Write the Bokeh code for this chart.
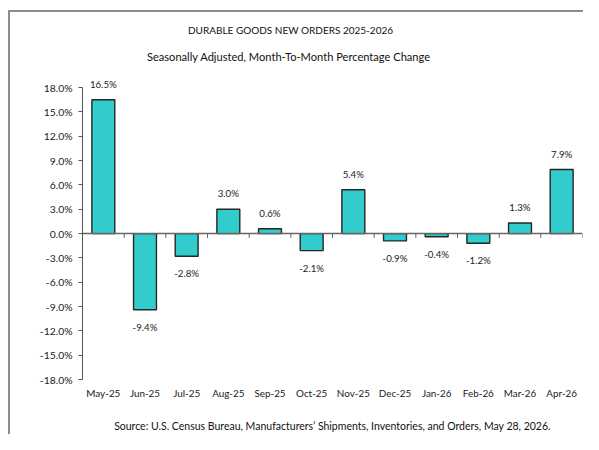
import glob
from bokeh.plotting import figure
from bokeh.models import Range1d, FixedTicker, Span, LabelSet, ColumnDataSource, Title
from bokeh.core.properties import value
from bokeh.embed import file_html
from bokeh.resources import INLINE

months = ["May-25", "Jun-25", "Jul-25", "Aug-25", "Sep-25", "Oct-25",
          "Nov-25", "Dec-25", "Jan-26", "Feb-26", "Mar-26", "Apr-26"]
values = [16.5, -9.4, -2.8, 3.0, 0.6, -2.1, 5.4, -0.9, -0.4, -1.2, 1.3, 7.9]
y_ticks = [-18, -15, -12, -9, -6, -3, 0, 3, 6, 9, 12, 15, 18]
y_tick_labels = ["-18.0%", "-15.0%", "-12.0%", "-9.0%", "-6.0%", "-3.0%", "0.0%",
                 "3.0%", "6.0%", "9.0%", "12.0%", "15.0%", "18.0%"]
title_text = "DURABLE GOODS NEW ORDERS 2025-2026"
subtitle_text = "Seasonally Adjusted,  Month-To-Month Percentage Change"
source_text = "Source: U.S. Census Bureau, Manufacturers\u2019 Shipments, Inventories, and Orders, May 28, 2026."

FONT = "Lato"

# ---- text measurement (layout helper) ----
_font = None
try:
    from PIL import ImageFont
    cands = [f for f in glob.glob("/usr/share/fonts/**/*.ttf", recursive=True)
             if "Lato-Regular" in f or f.endswith("Lato-Reg.ttf")]
    if cands:
        _font = ImageFont.truetype(cands[0], 100)
except Exception:
    _font = None


def em_width(txt):
    if _font is not None:
        return _font.getlength(txt) / 100.0
    return len(txt) * 0.5


def fit_size(txt, px):
    return px / em_width(txt)


FRAME_LEFT = 82
sub_size = round(fit_size(subtitle_text, 285), 1)
title_size = round(min(sub_size, max(0.88 * sub_size, fit_size(title_text, 206))), 1)
src_size = round(fit_size(source_text, 437), 1)
ytick_size = round(fit_size("18.0%", 29), 1)
xtick_size = round(fit_size("May-25", 34), 1)
val_size = round(fit_size("16.5%", 27), 1)

title_off = 290 - em_width(title_text) * title_size / 2 - FRAME_LEFT
sub_off = 289.5 - em_width(subtitle_text) * sub_size / 2 - FRAME_LEFT

n = len(months)
centers = [i + 0.5 for i in range(n)]
bounds = [i + 1 for i in range(n)]

p = figure(width=583, height=434, output_backend="svg", toolbar_location=None,
           x_range=Range1d(0, n), y_range=Range1d(-18, 19.5),
           min_border_left=FRAME_LEFT, min_border_right=1, min_border_top=75, min_border_bottom=55,
           background_fill_color="white", border_fill_color=None)
p.styles = {"box-shadow": "inset 8px 10px 0 0 #ffffff, inset 10px 12px 0 0 #8c8c8c"}
p.outline_line_color = None
p.grid.visible = False

src = ColumnDataSource(dict(
    x=centers, top=values,
    lab=[f"{v:.1f}%" for v in values],
    off=[16 if v >= 0 else -17 for v in values],
))
p.vbar(x="x", top="top", bottom=0, width=0.55, source=src,
       fill_color="#33CCCC", line_color="#262626", line_width=1.4)

p.add_layout(Span(location=0, dimension="width", line_color="#666666", line_width=1.5))
p.segment(x0=bounds, y0=[0] * n, x1=bounds, y1=[-0.55] * n, line_color="#666666", line_width=1)

labels = LabelSet(x="x", y="top", text="lab", y_offset="off", source=src,
                  text_align="center", text_baseline="middle",
                  text_font=value(FONT), text_font_size=f"{val_size}px", text_color="#1a1a1a")
p.add_layout(labels)

ya = p.yaxis[0]
ya.bounds = (-18, 18)
ya.ticker = FixedTicker(ticks=y_ticks)
ya.major_label_overrides = {t: l for t, l in zip(y_ticks, y_tick_labels)}
ya.minor_tick_line_color = None
ya.major_tick_in = 0
ya.major_tick_out = 4
ya.major_label_standoff = 6
ya.axis_line_color = "#555555"
ya.major_tick_line_color = "#555555"
ya.major_label_text_font = FONT
ya.major_label_text_font_size = f"{ytick_size}px"
ya.major_label_text_color = "#1a1a1a"

xa = p.xaxis[0]
xa.ticker = FixedTicker(ticks=centers)
xa.major_label_overrides = {c: m for c, m in zip(centers, months)}
xa.axis_line_color = None
xa.major_tick_line_color = None
xa.minor_tick_line_color = None
xa.major_tick_in = 0
xa.major_tick_out = 0
xa.minor_tick_out = 0
xa.major_label_standoff = 7
xa.major_label_text_font = FONT
xa.major_label_text_font_size = f"{xtick_size}px"
xa.major_label_text_color = "#1a1a1a"
xa.axis_label = source_text
xa.axis_label_standoff = 18
xa.axis_label_text_font = FONT
xa.axis_label_text_font_style = "normal"
xa.axis_label_text_font_size = f"{src_size}px"
xa.axis_label_text_color = "#111111"

p.add_layout(Title(text=subtitle_text, align="left", offset=sub_off, standoff=25, text_font=FONT,
                   text_font_size=f"{sub_size}px", text_font_style="normal", text_color="#111111"), "above")
p.add_layout(Title(text=title_text, align="left", offset=title_off, standoff=0, text_font=FONT,
                   text_font_size=f"{title_size}px", text_font_style="normal", text_color="#111111"), "above")

open("out.html", "w").write(file_html(p, INLINE))
